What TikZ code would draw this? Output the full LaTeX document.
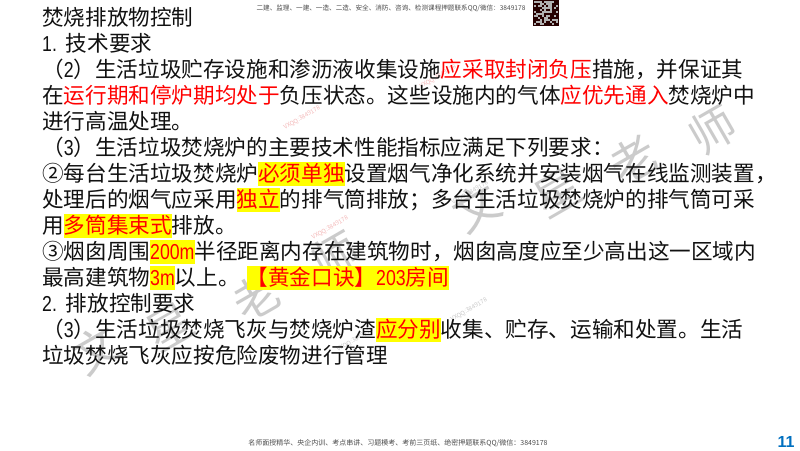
\documentclass[tikz,border=0pt]{standalone}
\usepackage{fontspec}
\setmainfont{Noto Sans CJK SC}
\newfontfamily\narrowfont[FakeStretch=0.82]{Liberation Sans}
\newfontfamily\pagefont{Liberation Sans}
\usetikzlibrary{positioning}
\definecolor{alert}{HTML}{FF0000}
\definecolor{marker}{HTML}{FFFF00}
\definecolor{inktext}{HTML}{111111}
\definecolor{pagenum}{HTML}{0070C0}
\definecolor{markgray}{HTML}{CBCBCB}
\definecolor{markpink}{HTML}{F4B8B8}
\definecolor{smallgray}{HTML}{C8C8C8}
\setlength{\fboxsep}{0pt}
\newcommand{\lat}[1]{{\narrowfont #1}}
\newcommand{\redtext}[1]{\textcolor{alert}{#1}}
\newcommand{\goldtext}[1]{\colorbox{marker}{\rule[-4.5pt]{0pt}{24pt}\textcolor{alert}{#1}}}

\begin{document}
\begin{tikzpicture}[%
	x=1pt,
	y=-1pt,
	body line/.style={
		anchor=base west,
		inner sep=0pt,
		font=\fontsize{21.6pt}{26pt}\selectfont,
		text=inktext
	},
	next line/.style={
		below = 26pt of #1.base west,
		body line
	},
	small line/.style={
		inner sep=0pt,
		text=inktext!75
	},
	big mark/.style={
		inner sep=0pt,
		rotate=30,
		font=\fontsize{46pt}{46pt}\selectfont,
		text=markgray
	},
	wx mark/.style={
		inner sep=0pt,
		rotate=30,
		font=\fontsize{6pt}{6pt}\selectfont,
		text=markpink
	},
]
	\useasboundingbox (0,0) rectangle (800,450);
	\fill[white] (0,0) rectangle (800,450);

	% watermark, two rows
	\node[big mark] (m1) at (477,208) {文};
	\node[big mark] (m2) at (558,193) {星};
	\node[big mark] (m3) at (633,160) {老};
	\node[big mark] (m4) at (713,130) {师};
	\node[big mark] (m5) at (97,350) {文};
	\node[big mark] (m6) at (170,327) {星};
	\node[big mark] (m7) at (257,297) {老};
	\node[big mark] (m8) at (336,256) {师};
	\node[wx mark] (w1) at (302,118) {VXQQ:3849178};
	\node[wx mark] (w2) at (438,77) {VXQQ:3849178};
	\node[wx mark,text=smallgray] (w3) at (470,193) {VXQQ:3849178};
	\node[wx mark] (w4) at (330,228) {VXQQ:3849178};
	\node[wx mark,text=smallgray] (w5) at (469,310) {VXQQ:3849178};
	\node[wx mark,text=smallgray] (w6) at (355,340) {VXQQ:3849178};

	% slide text
	\node[body line] (l1) at (42,25) {焚烧排放物控制};
	\node[next line=l1] (l2) {\lat{1.}\hspace{9pt}技术要求};
	\node[next line=l2] (l3) {（\lat{2}）生活垃圾贮存设施和渗沥液收集设施\redtext{应采取封闭负压}措施，并保证其};
	\node[next line=l3] (l4) {在\redtext{运行期和停炉期均处于}负压状态。这些设施内的气体\redtext{应优先通入}焚烧炉中};
	\node[next line=l4] (l5) {进行高温处理。};
	\node[next line=l5] (l6) {（\lat{3}）生活垃圾焚烧炉的主要技术性能指标应满足下列要求：};
	\node[next line=l6] (l7) {②每台生活垃圾焚烧炉\goldtext{必须单独}设置烟气净化系统并安装烟气在线监测装置，};
	\node[next line=l7] (l8) {处理后的烟气应采用\goldtext{独立}的排气筒排放；多台生活垃圾焚烧炉的排气筒可采};
	\node[next line=l8] (l9) {用\goldtext{多筒集束式}排放。};
	\node[next line=l9] (l10) {③烟囱周围\goldtext{\lat{200m}}半径距离内存在建筑物时，烟囱高度应至少高出这一区域内};
	\node[next line=l10] (l11) {最高建筑物\goldtext{\lat{3m}}以上。\hspace{7pt}\goldtext{【黄金口诀】\lat{203}房间}};
	\node[next line=l11] (l12) {\lat{2.}\hspace{9pt}排放控制要求};
	\node[next line=l12] (l13) {（\lat{3}）生活垃圾焚烧飞灰与焚烧炉渣\goldtext{应分别}收集、贮存、运输和处置。生活};
	\node[next line=l13] (l14) {垃圾焚烧飞灰应按危险废物进行管理};

	% header, code square, footer
	\node[small line,font=\fontsize{6.6pt}{7pt}\selectfont] (head) at (391,8) {二建、监理、一建、一造、二造、安全、消防、咨询、检测课程押题联系QQ/微信：3849178};
	\node[fill=black!85!red,minimum width=26pt,minimum height=26pt,inner sep=0pt] (qr) at (546,13) {};
	\pgfmathsetseed{178}
	\foreach \i in {0,...,11} {
		\foreach \j in {0,...,11} {
			\pgfmathparse{rnd>0.55 ? 1 : 0}
			\ifnum\pgfmathresult=1
				\fill[white!70!black] (534+2*\i,1+2*\j) rectangle +(2,2);
			\fi
		}
	}
	\node[small line,font=\fontsize{7pt}{8pt}\selectfont] (foot) at (398,443) {名师面授精华、央企内训、考点串讲、习题模考、考前三页纸、绝密押题联系QQ/微信：3849178};
	\node[inner sep=0pt,text=pagenum,font=\pagefont\bfseries\fontsize{16pt}{16pt}\selectfont] (page) at (786,442) {11};
\end{tikzpicture}
\end{document}
